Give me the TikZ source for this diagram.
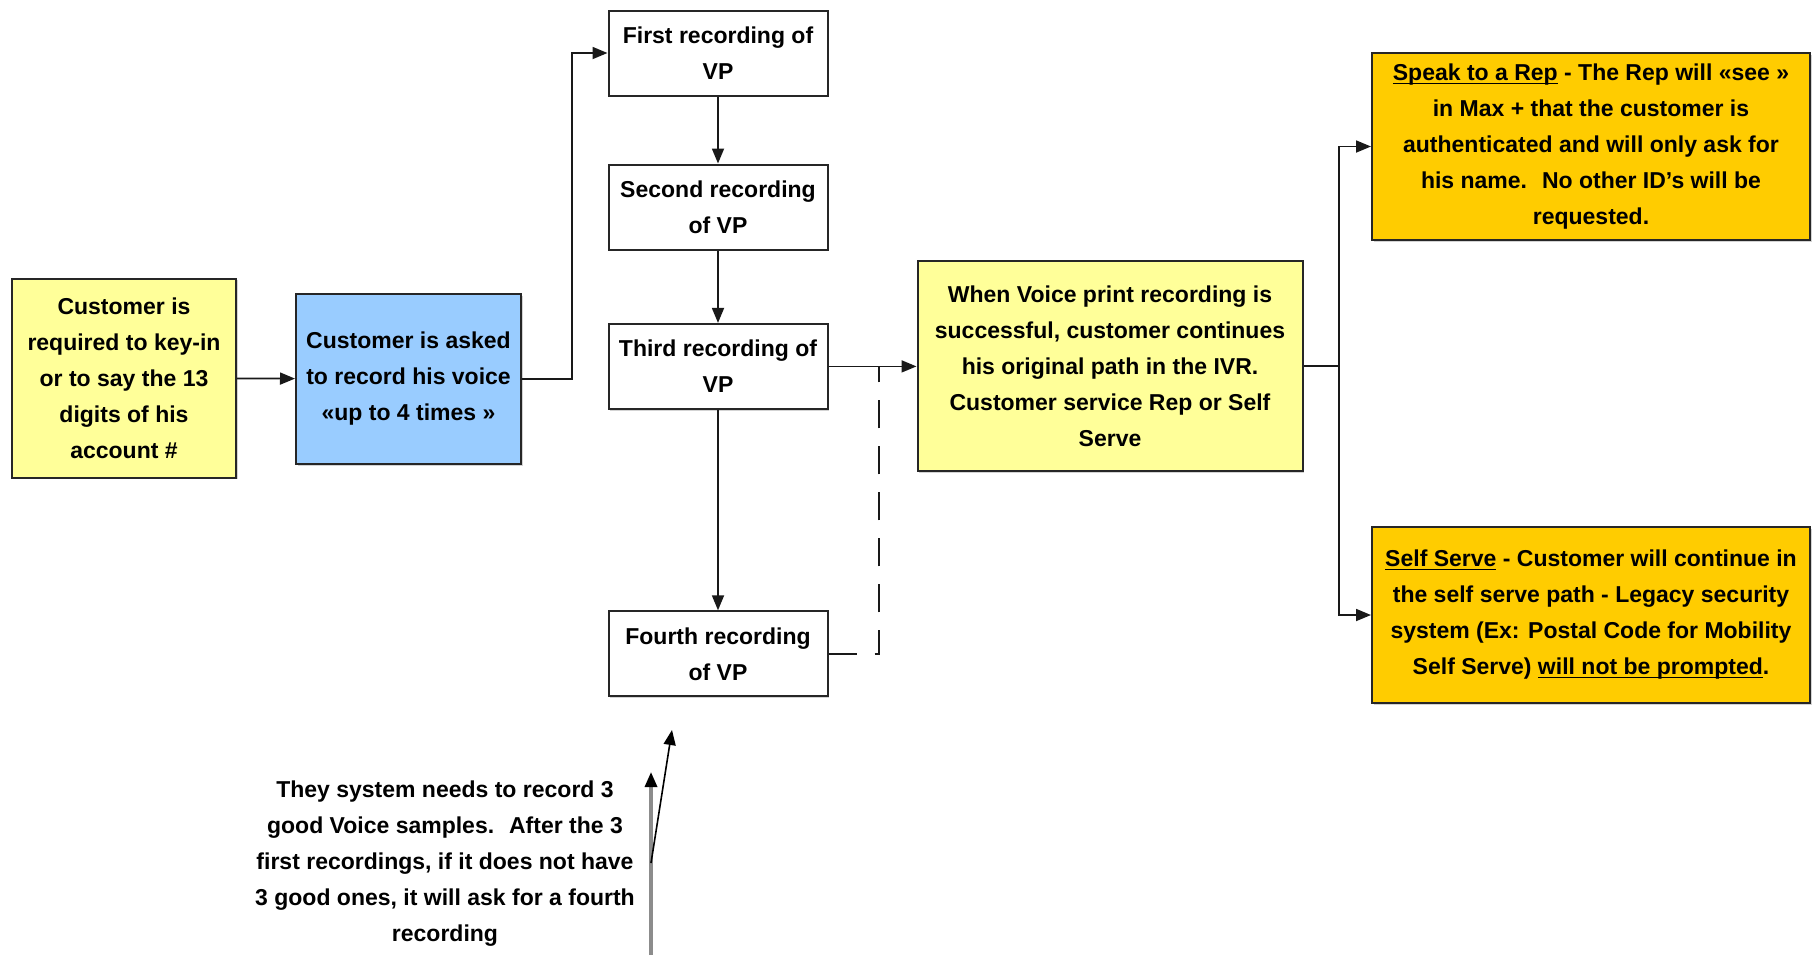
\documentclass[tikz,border=0pt]{standalone}
\usepackage{fontspec}
\setmainfont{Liberation Sans}
\usetikzlibrary{arrows.meta,positioning,shadows}
\definecolor{paleyellow}{HTML}{FFFF99}
\definecolor{skyblue}{HTML}{99CCFF}
\definecolor{gold}{HTML}{FFCC00}
\newcommand\ulin[1]{\underline{\smash{#1}}}
\tikzset{
    %Define standard arrow tip
    >={Triangle[length=7.5pt,width=6pt]},
    %Define style for boxes
    blokk/.style={
           rectangle,
           draw=black!85, line width=1pt,
           inner sep=2pt,
           align=center,
           font=\bfseries\fontsize{11.5}{18}\selectfont,
           drop shadow={shadow xshift=0.8pt,shadow yshift=-0.8pt,opacity=0.35}},
    recbox/.style={blokk, fill=white,
           minimum width=109.5pt, minimum height=42.5pt},
    % Define arrow style
    pil/.style={->, line width=0.9pt, draw=black!90},
    link/.style={line width=0.9pt, draw=black!90},
}
\begin{document}
\begin{tikzpicture}[x=0.5pt,y=-0.5pt]
\useasboundingbox (0,0) rectangle (1816,955);
% left part
\node[blokk, fill=paleyellow, minimum width=112pt, minimum height=99.5pt] (account) at (124,378)
    {Customer is\\required to key-in\\or to say the 13\\digits of his\\account \#};
\node[blokk, fill=skyblue, minimum width=112.5pt, minimum height=85pt] (asked) at (408.5,379)
    {Customer is asked\\to record his voice\\«up to 4 times »};
% the recordings
\node[recbox] (rec1) at (718,53) {First recording of\\VP};
\node[recbox, below=33.5pt of rec1] (rec2) {Second recording\\of VP};
\node[recbox, below=36.2pt of rec2] (rec3) {Third recording of\\VP};
\node[recbox, below=100.2pt of rec3] (rec4) {Fourth recording\\of VP};
% right part
\node[blokk, fill=paleyellow, minimum width=192.5pt, minimum height=105pt] (success) at (1110,366)
    {When Voice print recording is\\successful, customer continues\\his original path in the IVR.\\Customer service Rep or Self\\Serve};
\node[blokk, fill=gold, minimum width=219pt, minimum height=93.5pt] (rep) at (1591,146.5)
    {\ulin{Speak to a Rep} - The Rep will «see »\\in Max + that the customer is\\authenticated and will only ask for\\his name.~ No other ID's will be\\requested.};
\node[blokk, fill=gold, minimum width=219pt, minimum height=88pt] (self) at (1591,615)
    {\ulin{Self Serve} - Customer will continue in\\the self serve path - Legacy security\\system (Ex: Postal Code for Mobility\\Self Serve) \ulin{will not be prompted}.};
% note
\node[align=center, font=\bfseries\fontsize{11.5}{18}\selectfont] (note) at (445,864)
    {They system needs to record 3\\good Voice samples.~ After the 3\\first recordings, if it does not have\\3 good ones, it will ask for a fourth\\recording};

\coordinate (split) at (1339,366);
\coordinate (join) at (rec3.east -| 879,0);
\coordinate (tail) at (651,955);
\coordinate (tip1) at (651,772);
\coordinate (fork) at (651,863);
\coordinate (tip2) at (672,730);

\draw[pil] (account) -- (asked);
\draw[pil] (asked.east) -- ++(50,0) |- (rec1.west);
\draw[pil] (rec1) -- (rec2);
\draw[pil] (rec2) -- (rec3);
\draw[pil] (rec3) -- (rec4);
\draw[pil] (rec3.east) -- (rec3.east -| success.west);
\draw[link, dash pattern=on 14pt off 9pt] (rec4.east) -| (join);
\draw[link] (success.east) -- (split);
\draw[pil] (split) |- (rep.west);
\draw[pil] (split) |- (self.west);
\draw[-{Triangle[length=7.5pt,width=6pt,color=black]}, line width=1.6pt, draw=black!45] (tail) -- (tip1);
\draw[->, line width=0.8pt] (fork) -- (tip2);
\end{tikzpicture}
\end{document}
